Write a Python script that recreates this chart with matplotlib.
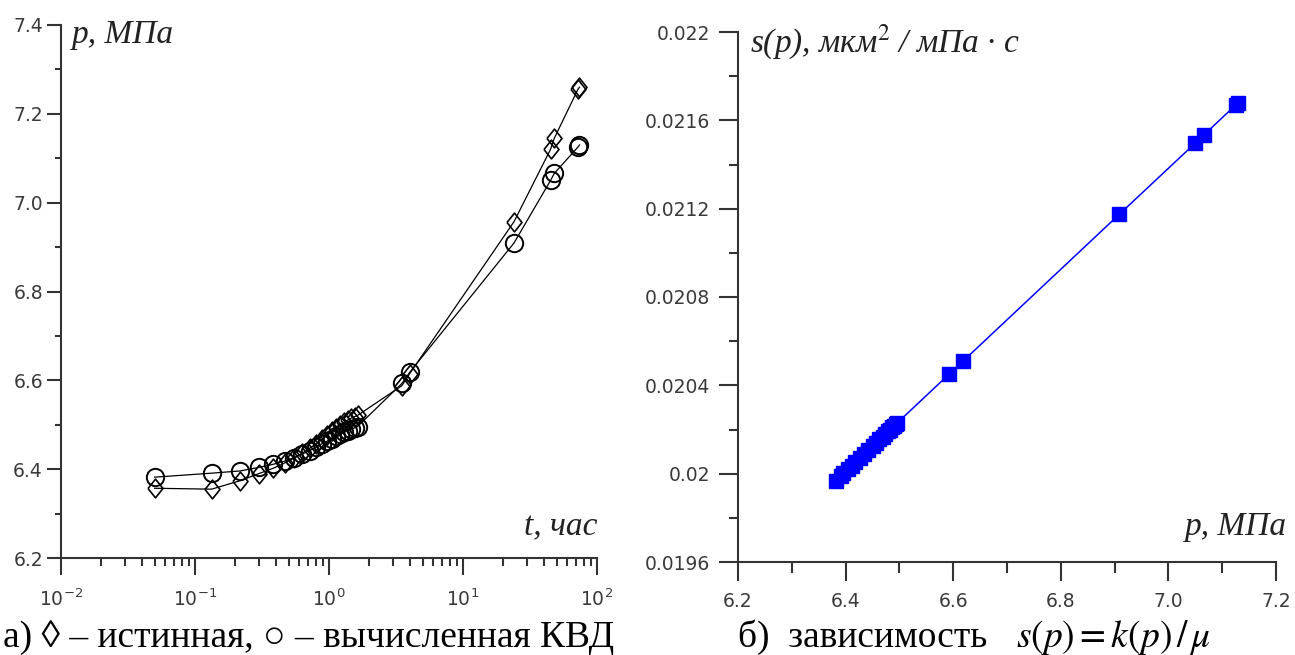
import matplotlib
matplotlib.use('Agg')
import matplotlib.pyplot as plt
from matplotlib.ticker import MultipleLocator, FuncFormatter, LogLocator, FixedLocator

# ---- data ---------------------------------------------------------------------
t_hours = [0.05, 0.133, 0.217, 0.3, 0.383, 0.467, 0.55, 0.633, 0.717, 0.8,
           0.883, 0.967, 1.05, 1.133, 1.217, 1.3, 1.383, 1.467, 1.55, 1.633,
           3.5, 4.0, 24.0, 45.0, 48.0, 72.0, 74.0]
p_true = [6.357, 6.355, 6.374, 6.390, 6.402, 6.414, 6.425, 6.436, 6.447, 6.457,
          6.467, 6.476, 6.485, 6.493, 6.500, 6.506, 6.511, 6.515, 6.518, 6.521,
          6.588, 6.615, 6.957, 7.120, 7.145, 7.255, 7.260]
p_calc = [6.382, 6.391, 6.396, 6.404, 6.411, 6.418, 6.426, 6.434, 6.442, 6.450,
          6.457, 6.463, 6.469, 6.474, 6.479, 6.483, 6.487, 6.490, 6.493, 6.496,
          6.593, 6.618, 6.909, 7.050, 7.066, 7.125, 7.130]
s_vals = [0.019969, 0.019990, 0.020001, 0.020020, 0.020036, 0.020052, 0.020070,
          0.020088, 0.020107, 0.020125, 0.020141, 0.020155, 0.020168, 0.020180,
          0.020191, 0.020200, 0.020210, 0.020216, 0.020223, 0.020230, 0.020452,
          0.020509, 0.021175, 0.021497, 0.021534, 0.021669, 0.021680]

plt.rcParams['mathtext.fontset'] = 'stix'
SERIF = ['Liberation Serif', 'DejaVu Serif']
TICK_FONT = dict(family='DejaVu Sans', size=13.5, color='#3a3a3a')
AX_COL = '#333333'

W, H = 1295, 655
fig = plt.figure(figsize=(W / 100, H / 100), dpi=100)


def px_axes(x0, x1, ytop, ybot):
    return fig.add_axes([x0 / W, (H - ybot) / H, (x1 - x0) / W, (ybot - ytop) / H])


def style(ax, xmaj, xmin, ymaj, ymin, xpad, ypad):
    for s in ('top', 'right'):
        ax.spines[s].set_visible(False)
    for s in ('left', 'bottom'):
        ax.spines[s].set_color(AX_COL)
        ax.spines[s].set_linewidth(1.5)
    ax.tick_params(axis='x', which='major', length=xmaj, width=1.5, color=AX_COL, pad=xpad)
    ax.tick_params(axis='x', which='minor', length=xmin, width=1.5, color=AX_COL)
    ax.tick_params(axis='y', which='major', length=ymaj, width=1.5, color=AX_COL, pad=ypad)
    ax.tick_params(axis='y', which='minor', length=ymin, width=1.5, color=AX_COL)
    for lab in ax.get_xticklabels() + ax.get_yticklabels():
        lab.set_fontfamily(TICK_FONT['family'])
        lab.set_fontsize(TICK_FONT['size'])
        lab.set_color(TICK_FONT['color'])


# ---- left: pressure build-up curve -------------------------------------------
axL = px_axes(61, 597, 25, 558)
axL.set_xscale('log')
diamond = [(-0.8, 0), (0, 1), (0.8, 0), (0, -1), (-0.8, 0)]
axL.plot(t_hours, p_true, color='black', lw=0.9, marker=diamond, ms=13.5,
         mfc='none', mec='black', mew=1.2, zorder=3)
axL.plot(t_hours, p_calc, color='black', lw=0.9, marker='o', ms=12.5,
         mfc='none', mec='black', mew=1.4, zorder=3)
axL.set_xlim(1e-2, 1e2)
axL.set_ylim(6.2, 7.4)
axL.xaxis.set_major_locator(LogLocator(base=10, numticks=10))
axL.xaxis.set_minor_locator(LogLocator(base=10, subs=range(2, 10), numticks=20))
axL.yaxis.set_major_locator(MultipleLocator(0.2))
axL.yaxis.set_minor_locator(MultipleLocator(0.1))
axL.yaxis.set_major_formatter(FuncFormatter(lambda v, _: f'{v:.1f}'))
style(axL, 12, 6, 10, 4.3, 10, 3)

# ---- right: s(p) --------------------------------------------------------------
axR = px_axes(738, 1276, 32, 562)
axR.plot(p_calc, s_vals, color='#0000ff', lw=1.1, marker='s', ms=9.5,
         mfc='#0000ff', mec='#0000ff', zorder=3)
axR.set_xlim(6.2, 7.2)
axR.set_ylim(0.0196, 0.022)
axR.xaxis.set_major_locator(MultipleLocator(0.2))
axR.xaxis.set_minor_locator(MultipleLocator(0.1))
axR.yaxis.set_major_locator(FixedLocator([0.0196, 0.02, 0.0204, 0.0208, 0.0212, 0.0216, 0.022]))
axR.yaxis.set_minor_locator(FixedLocator([0.0198, 0.0202, 0.0206, 0.021, 0.0214, 0.0218]))
axR.xaxis.set_major_formatter(FuncFormatter(lambda v, _: f'{v:.1f}'))
axR.yaxis.set_major_formatter(FuncFormatter(lambda v, _: f'{round(v, 5):g}'))
style(axR, 13.7, 8, 13.7, 6.5, 8, 6.5)

# ---- axis captions placed inside the frames -----------------------------------
lab = dict(family=SERIF, style='italic', size=24, color='#222222', va='baseline')
fig.text(72 / W, 1 - 43 / H, 'p, МПа', ha='left', **lab)
fig.text(597 / W, 1 - 535 / H, 't, час', ha='right', **lab)
fig.text(750 / W, 1 - 52 / H, r's(p), мкм$^{2}$ / мПа · с', ha='left', **lab)
fig.text(1287 / W, 1 - 535 / H, 'p, МПа', ha='right', **lab)

# ---- panel captions -----------------------------------------------------------
cap = dict(family=SERIF, size=27, color='black', va='baseline')
fig.text(3 / W, 1 - 647 / H, 'а) ◊ – истинная, ○ – вычисленная КВД', ha='left', **cap)
fig.text(738 / W, 1 - 647 / H, 'б)  зависимость', ha='left', **cap)
fig.text(1016 / W, 1 - 647 / H, r'$s(p) = k(p)\,/\,\mu$', ha='left', **cap)

fig.savefig('out.png', dpi=100, facecolor='white')
